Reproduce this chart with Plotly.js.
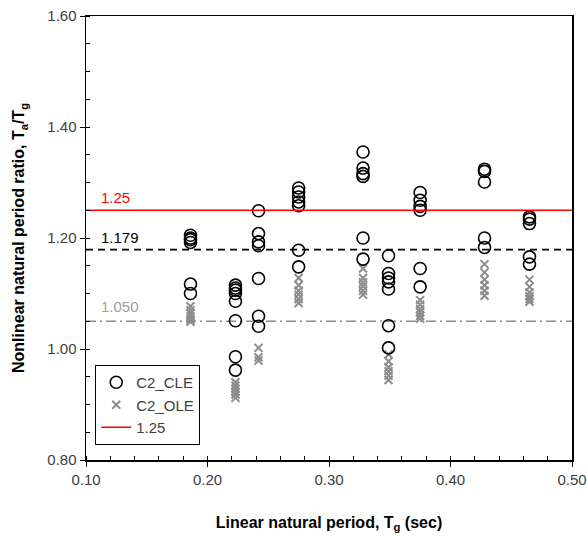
<!DOCTYPE html>
<html>
<head>
<meta charset="utf-8">
<script src="https://cdn.plot.ly/plotly-3.0.1.min.js"></script>
<style>
  html, body { margin: 0; padding: 0; background: #fff; }
  #chart { width: 587px; height: 537px; }
</style>
</head>
<body>
<div id="chart"></div>
<script>
// Linear natural periods Tg (sec) of the C2 building models
const periods = [0.186, 0.223, 0.242, 0.275, 0.328, 0.349, 0.375, 0.428, 0.465];

// Ta/Tg ratios for each model under CLE records
const cleRatios = [
  [1.205, 1.200, 1.197, 1.192, 1.117, 1.100],
  [1.115, 1.110, 1.106, 1.100, 1.086, 1.051, 0.986, 0.962],
  [1.249, 1.208, 1.193, 1.186, 1.127, 1.059, 1.041],
  [1.290, 1.283, 1.274, 1.265, 1.258, 1.178, 1.148],
  [1.355, 1.326, 1.316, 1.311, 1.200, 1.162],
  [1.168, 1.136, 1.128, 1.121, 1.108, 1.042, 1.002],
  [1.282, 1.268, 1.257, 1.250, 1.145, 1.112],
  [1.324, 1.320, 1.301, 1.200, 1.183],
  [1.238, 1.234, 1.226, 1.166, 1.153]
];

// Ta/Tg ratios for each model under OLE records
const oleRatios = [
  [1.077, 1.070, 1.064, 1.058, 1.053, 1.049],
  [0.940, 0.934, 0.928, 0.923, 0.918, 0.912],
  [1.002, 0.985, 0.979],
  [1.128, 1.115, 1.105, 1.098, 1.090, 1.083],
  [1.145, 1.128, 1.120, 1.113, 1.105, 1.098],
  [0.990, 0.978, 0.967, 0.960, 0.952, 0.944],
  [1.088, 1.080, 1.072, 1.066, 1.060, 1.055],
  [1.153, 1.138, 1.125, 1.115, 1.105, 1.096],
  [1.125, 1.112, 1.102, 1.095, 1.090, 1.085]
];

// Reference ratio levels
const limitRatio = 1.25;
const cleMean = 1.179;
const oleMean = 1.050;
const lineSpan = [0.10, 0.50];

// Flatten the grouped ratios into x/y pairs
function flatten(groups) {
  const xs = [], ys = [];
  groups.forEach((vals, i) => vals.forEach(v => { xs.push(periods[i]); ys.push(v); }));
  return { xs, ys };
}
const cle = flatten(cleRatios);
const ole = flatten(oleRatios);

const traces = [
  {
    x: lineSpan, y: [oleMean, oleMean], mode: 'lines', showlegend: false,
    line: { color: '#8c8c8c', width: 1.5, dash: '10px,4px,2px,4px' }, hoverinfo: 'skip'
  },
  {
    x: lineSpan, y: [cleMean, cleMean], mode: 'lines', showlegend: false,
    line: { color: '#000', width: 1.6, dash: '7px,5px' }, hoverinfo: 'skip'
  },
  {
    x: ole.xs, y: ole.ys, mode: 'markers', name: 'C2_OLE', legendrank: 2,
    marker: { symbol: 'x-thin', size: 8, color: '#8c8c8c', line: { color: '#8c8c8c', width: 2 } }
  },
  {
    x: cle.xs, y: cle.ys, mode: 'markers', name: 'C2_CLE', legendrank: 1,
    marker: { symbol: 'circle-open', size: 12, color: '#000', line: { color: '#000', width: 1.6 } }
  },
  {
    x: lineSpan, y: [limitRatio, limitRatio], mode: 'lines', name: limitRatio.toFixed(2), legendrank: 3,
    line: { color: '#ff0000', width: 1.6 }
  }
];

const labelFont = { family: 'Liberation Sans, Arial, sans-serif', size: 15 };

const layout = {
  width: 587, height: 537,
  margin: { l: 86, r: 15, t: 16, b: 77 },
  paper_bgcolor: '#fff', plot_bgcolor: '#fff',
  font: { family: 'Liberation Sans, Arial, sans-serif', size: 15, color: '#404040' },
  showlegend: true,
  legend: {
    x: 0.019, y: 0.214, xanchor: 'left', yanchor: 'top',
    bgcolor: '#fff', bordercolor: '#000', borderwidth: 1,
    font: { size: 15, color: '#404040' },
    tracegroupgap: 2, itemwidth: 30
  },
  xaxis: {
    range: [0.10, 0.50], dtick: 0.1, tick0: 0.1, tickformat: '.2f',
    showline: true, linecolor: '#000', linewidth: 1.5, mirror: true,
    ticks: 'outside', ticklen: 5, tickcolor: '#000', tickwidth: 1,
    minor: { dtick: 0.02, ticks: 'inside', ticklen: 4, tickcolor: '#000', tickwidth: 1 },
    showgrid: false, zeroline: false,
    tickfont: { size: 15, color: '#404040' },
    title: {
      text: '<b>Linear natural period, T<sub>g</sub> (sec)</b>',
      font: { size: 16, color: '#000' }, standoff: 30
    }
  },
  yaxis: {
    range: [0.80, 1.60], dtick: 0.2, tick0: 0.8, tickformat: '.2f',
    showline: true, linecolor: '#000', linewidth: 1.5, mirror: true,
    ticks: 'outside', ticklen: 5, tickcolor: '#000', tickwidth: 1,
    minor: { dtick: 0.05, ticks: 'inside', ticklen: 4, tickcolor: '#000', tickwidth: 1 },
    showgrid: false, zeroline: false,
    tickfont: { size: 15, color: '#404040' },
    title: {
      text: '<b>Nonlinear natural period ratio, T<sub>a</sub>/T<sub>g</sub></b>',
      font: { size: 16, color: '#000' }, standoff: 18
    }
  },
  annotations: [
    { x: 0.111, y: limitRatio, xanchor: 'left', yanchor: 'bottom', yshift: 2, showarrow: false,
      text: limitRatio.toFixed(2), font: Object.assign({}, labelFont, { color: '#ff0000' }) },
    { x: 0.111, y: cleMean, xanchor: 'left', yanchor: 'bottom', yshift: 2, showarrow: false,
      text: cleMean.toFixed(3), font: Object.assign({}, labelFont, { color: '#000' }) },
    { x: 0.111, y: oleMean, xanchor: 'left', yanchor: 'bottom', yshift: 4, showarrow: false,
      text: oleMean.toFixed(3), font: Object.assign({}, labelFont, { color: '#a0a0a0' }) }
  ]
};

Plotly.newPlot('chart', traces, layout, { displayModeBar: false, staticPlot: true });
</script>
</body>
</html>
